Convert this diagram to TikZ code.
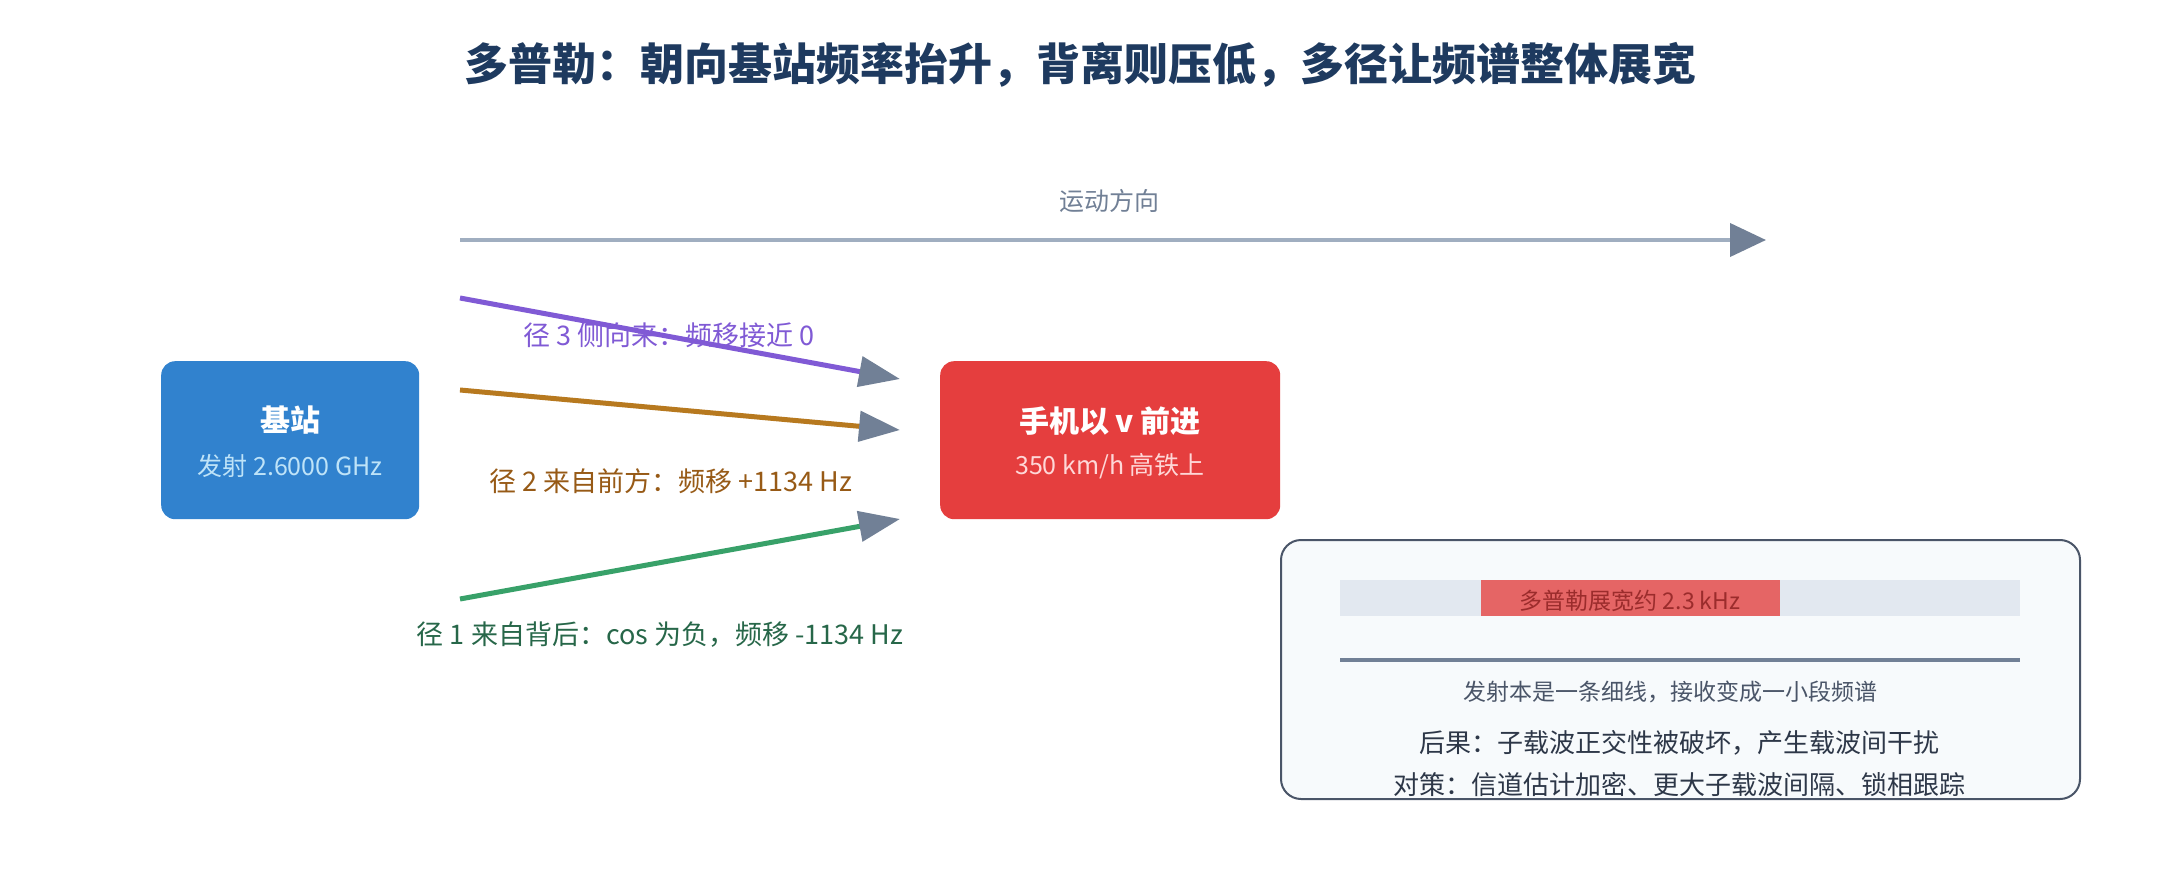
\documentclass[tikz,border=0pt]{standalone}
\usepackage{fontspec}
\setmainfont{Noto Sans CJK SC}
\usetikzlibrary{arrows.meta}
\definecolor{titlec}{HTML}{1E3A5F}
\definecolor{grayt}{HTML}{718096}
\definecolor{grayl}{HTML}{A0AEC0}
\definecolor{bluebox}{HTML}{3182CE}
\definecolor{bluetxt}{HTML}{BEE3F8}
\definecolor{redbox}{HTML}{E53E3E}
\definecolor{redtxt}{HTML}{FED7D7}
\definecolor{purp}{HTML}{805AD5}
\definecolor{orng}{HTML}{B7791F}
\definecolor{orngt}{HTML}{975A16}
\definecolor{grn}{HTML}{38A169}
\definecolor{grnt}{HTML}{276749}
\definecolor{panelf}{HTML}{F7FAFC}
\definecolor{paneld}{HTML}{4A5568}
\definecolor{bart}{HTML}{E2E8F0}
\definecolor{barr}{HTML}{E56565}
\definecolor{barrt}{HTML}{9B2C2C}
\definecolor{txtd}{HTML}{2D3748}
\newcommand{\fs}[1]{\fontsize{#1}{#1}\selectfont}
\tikzset{
  box/.style={rounded corners=14pt, inner sep=0pt, minimum width=258pt, minimum height=158pt, anchor=north west},
  path3/.style={line width=5pt, -{Triangle[length=41pt,width=30pt,color=grayt]}},
  lbl/.style={inner sep=0pt, anchor=center},
}
\begin{document}
\begin{tikzpicture}[x=1pt,y=-1pt]
\fill[white] (0,0) rectangle (2160,880);
\useasboundingbox (0,0) rectangle (2160,880);

\node[lbl, text=titlec, font=\fs{44}\bfseries] (title) at (1080,65) {多普勒：朝向基站频率抬升，背离则压低，多径让频谱整体展宽};

% motion direction
\node[lbl, text=grayt, font=\fs{25}] (mv) at (1109,201) {运动方向};
\coordinate (mvs) at (460,240);
\coordinate (mve) at (1766,240);
\draw[grayl, line width=4pt, -{Triangle[length=36pt,width=33pt,color=grayt]}] (mvs) -- (mve);

% boxes
\node[box, fill=bluebox, minimum width=258pt] (bs) at (161,361) {};
\node[lbl, text=white, font=\fs{30}\bfseries] (bst) at (290,420) {基站};
\node[lbl, text=bluetxt, font=\fs{25}] (bss) at (290,466) {发射 2.6000 GHz};

\node[box, fill=redbox, minimum width=340pt] (ph) at (940,361) {};
\node[lbl, text=white, font=\fs{30}\bfseries] (pht) at (1110,421) {手机以 v 前进};
\node[lbl, text=redtxt, font=\fs{25}] (phs) at (1110,466) {350 km/h 高铁上};

% paths
\coordinate (p3s) at (460,298); \coordinate (p3e) at (900,379);
\coordinate (p2s) at (460,390); \coordinate (p2e) at (900,430);
\coordinate (p1s) at (460,599); \coordinate (p1e) at (900,519);
\draw[path3, purp] (p3s) -- (p3e);
\draw[path3, orng] (p2s) -- (p2e);
\draw[path3, grn] (p1s) -- (p1e);
\node[lbl, text=purp, font=\fs{27}] (l3) at (669,335) {径 3 侧向来：频移接近 0};
\node[lbl, text=orngt, font=\fs{27}] (l2) at (671,481) {径 2 来自前方：频移 +1134 Hz};
\node[lbl, text=grnt, font=\fs{27}] (l1) at (660,635) {径 1 来自背后：cos 为负，频移 -1134 Hz};

% panel
\draw[paneld, fill=panelf, line width=2pt, rounded corners=20pt] (1281,540) rectangle (2080,799);
\fill[bart] (1340,580) rectangle (2020,616);
\fill[barr] (1481,580) rectangle (1780,616);
\node[lbl, text=barrt, font=\fs{23}] (bw) at (1630,601) {多普勒展宽约 2.3 kHz};
\coordinate (ls) at (1340,660); \coordinate (le) at (2020,660);
\draw[grayt, line width=4pt] (ls) -- (le);
\node[lbl, text=paneld, font=\fs{23}] (t1) at (1670,692) {发射本是一条细线，接收变成一小段频谱};
\node[lbl, text=txtd, font=\fs{26}] (t2) at (1679,743) {后果：子载波正交性被破坏，产生载波间干扰};
\node[lbl, text=txtd, font=\fs{26}] (t3) at (1679,785) {对策：信道估计加密、更大子载波间隔、锁相跟踪};
\end{tikzpicture}
\end{document}
